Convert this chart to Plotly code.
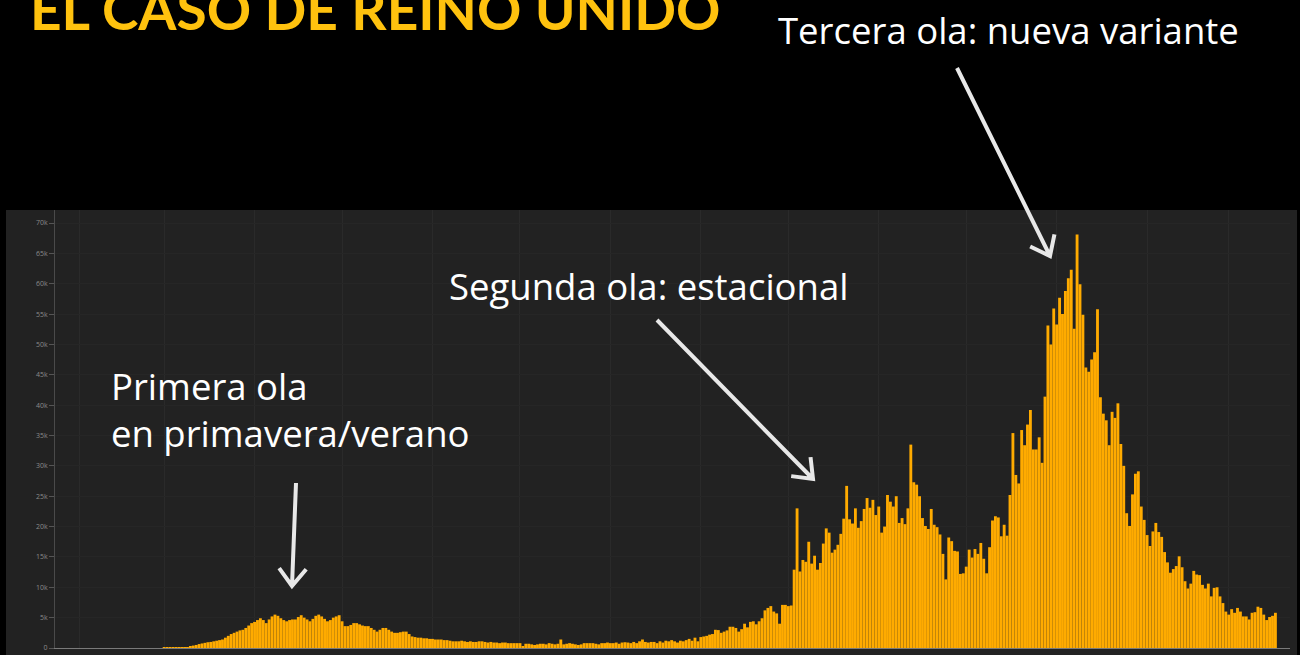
import math
import pandas as pd
import plotly.graph_objects as go

# ---------------- data (daily new cases) ----------------
month_starts = ["2020-03-01", "2020-04-01", "2020-05-01", "2020-06-01", "2020-07-01",
                "2020-08-01", "2020-09-01", "2020-10-01", "2020-11-01", "2020-12-01",
                "2021-01-01", "2021-02-01", "2021-03-01"]

cases_2020_03 = [10, 10, 10, 30, 30, 50, 40, 70, 50, 300,
                 400, 500, 650, 750, 850, 950, 1000, 1100, 1200, 1300,
                 1400, 1700, 2000, 2300, 2500, 2700, 2900, 3000, 3300, 3700, 4100]
cases_2020_04 = [4300, 4600, 4900, 4600, 4100, 4700, 5200, 5500, 5300, 4900,
                 4600, 4400, 4600, 4700, 4700, 5100, 5400, 5000, 4700, 4400,
                 4800, 5300, 5500, 5200, 4800, 4400, 4600, 5000, 5200, 5400]
cases_2020_05 = [4400, 3600, 3600, 3800, 4100, 4100, 3900, 3700, 3600, 3600,
                 3300, 3000, 2700, 3000, 3300, 3300, 3000, 2700, 2500, 2500,
                 2600, 2700, 2700, 2300, 1900, 1800, 1700, 1700, 1600, 1600, 1500]
cases_2020_06 = [1500, 1400, 1400, 1400, 1300, 1300, 1200, 1100, 1100, 1100,
                 1200, 1100, 1000, 1100, 1000, 1000, 1100, 1100, 1000, 900,
                 1000, 900, 900, 800, 900, 900, 800, 800, 800, 800]
cases_2020_07 = [800, 200, 700, 700, 600, 500, 600, 700, 700, 600,
                 800, 700, 600, 700, 1400, 600, 700, 800, 700, 600,
                 500, 600, 800, 800, 800, 800, 700, 600, 800, 800, 900]
cases_2020_08 = [800, 800, 900, 700, 900, 950, 900, 800, 1000, 800,
                 1100, 1400, 1000, 900, 1000, 1000, 800, 1100, 900, 1200,
                 1100, 1300, 1100, 900, 1200, 1100, 1300, 1500, 1200, 1700, 1100]
cases_2020_09 = [1800, 1900, 2000, 2200, 2300, 3000, 2950, 2500, 2700, 2900,
                 3500, 3500, 3300, 2700, 3100, 4000, 3400, 4300, 4400, 3900,
                 4400, 4900, 6200, 6600, 6900, 6000, 5700, 4000, 7100, 7100]
cases_2020_10 = [6900, 7000, 12900, 23000, 12600, 14500, 14200, 17500, 13900, 15200,
                 12900, 14000, 17200, 19700, 19000, 15700, 16200, 17000, 18800, 21300,
                 26700, 21200, 20500, 23000, 19800, 20900, 22900, 24700, 23100, 24400, 21900]
cases_2020_11 = [23300, 19000, 20000, 25200, 24100, 23300, 25000, 20600, 21400, 20400,
                 23000, 33500, 27300, 26900, 25000, 21400, 20100, 19600, 22900, 20300,
                 19900, 18700, 15500, 11300, 18200, 17600, 16000, 15900, 12200, 12300]
cases_2020_12 = [13400, 16200, 14900, 16300, 15500, 17300, 14700, 12300, 16600, 21000,
                 21700, 21500, 18400, 20300, 18500, 25200, 35400, 28500, 27100, 35900,
                 33400, 36800, 39200, 32700, 32700, 34700, 30500, 41400, 53100, 50000, 55900]
cases_2021_01 = [53300, 57700, 55000, 58800, 60900, 62300, 52600, 68100, 59900, 54900,
                 46200, 45500, 47500, 48700, 55800, 41300, 38600, 37500, 33400, 38900,
                 37900, 40300, 33600, 30000, 22200, 20100, 25300, 28700, 29100, 23300, 21100]
cases_2021_02 = [18600, 16800, 19200, 20600, 19100, 18300, 15800, 14100, 12400, 13000,
                 13500, 15100, 13300, 11000, 9800, 10600, 12700, 12100, 12000, 10400,
                 9800, 10600, 8500, 9900, 10000, 8500, 7400, 6000]
cases_2021_03 = [5500, 6400, 5800, 6600, 6000, 5200, 5200, 4700, 5800, 5900,
                 6800, 6600, 5500, 4600, 5100, 5300, 5800]

monthly_cases = [cases_2020_03, cases_2020_04, cases_2020_05, cases_2020_06, cases_2020_07,
                 cases_2020_08, cases_2020_09, cases_2020_10, cases_2020_11, cases_2020_12,
                 cases_2021_01, cases_2021_02, cases_2021_03]

y_tick_values = [0, 5000, 10000, 15000, 20000, 25000, 30000, 35000,
                 40000, 45000, 50000, 55000, 60000, 65000, 70000]
y_tick_labels = ["0", "5k", "10k", "15k", "20k", "25k", "30k", "35k",
                 "40k", "45k", "50k", "55k", "60k", "65k", "70k"]

title_text = "EL CASO DE REINO UNIDO"
label_third = "Tercera ola: nueva variante"
label_second = "Segunda ola: estacional"
label_first_1 = "Primera ola"
label_first_2 = "en primavera/verano"

# ---------------- build series ----------------
dates, values = [], []
for start, vals in zip(month_starts, monthly_cases):
    dates.extend(pd.date_range(start, periods=len(vals), freq="D"))
    values.extend(vals)

# ---------------- layout geometry (pixels) ----------------
W, H = 1300, 655
L, R, T, B = 55, 10, 210, 7
PW, PH = W - L - R, H - T - B
BASE = H - B


def px(x):
    return (x - L) / PW


def py(y):
    return (BASE - y) / PH


y_top = 70000 * PH / (BASE - 223)

fig = go.Figure()
fig.add_trace(go.Bar(
    x=dates, y=values,
    marker=dict(color="#FFAB00", line=dict(width=0)),
    hoverinfo="skip", showlegend=False,
))

shapes = [dict(type="rect", xref="paper", yref="paper",
               x0=px(6), x1=px(1297), y0=py(H), y1=py(210),
               fillcolor="#222222", line=dict(width=0), layer="below")]


def arrow(x0, y0, x1, y1, arm=22, ang=38):
    dx, dy = x1 - x0, y1 - y0
    n = math.hypot(dx, dy)
    bx, by = -dx / n, -dy / n
    pts = []
    for s in (1, -1):
        a = math.radians(ang * s)
        ax_ = x1 + arm * (bx * math.cos(a) - by * math.sin(a))
        ay_ = y1 + arm * (bx * math.sin(a) + by * math.cos(a))
        pts.append((ax_, ay_))
    path = (f"M {px(x0)},{py(y0)} L {px(x1)},{py(y1)} "
            f"M {px(pts[0][0])},{py(pts[0][1])} L {px(x1)},{py(y1)} "
            f"L {px(pts[1][0])},{py(pts[1][1])}")
    return dict(type="path", xref="paper", yref="paper", path=path,
                line=dict(color="#E8E8E8", width=4))


shapes += [arrow(957, 68, 1050, 256), arrow(657, 320, 813, 479), arrow(296, 483, 292, 586)]

TXT_FONT = "Open Sans"
TXT_SIZE = 36.5
TXT_DESC = 0.293


def label(text, x_left, baseline, size=TXT_SIZE, family=TXT_FONT, color="white",
          desc=TXT_DESC, weight="normal"):
    bottom = baseline + desc * size + 2
    return dict(text=text, xref="paper", yref="paper", x=px(x_left), y=py(bottom),
                xanchor="left", yanchor="bottom", showarrow=False,
                font=dict(family=family, size=size, color=color, weight=weight))


annotations = [
    label(title_text, 28, 30, size=55, family="Lato", color="#FFC20E", desc=0.213, weight="bold"),
    label(label_third, 776, 44),
    label(label_second, 447, 300),
    label(label_first_1, 109, 400),
    label(label_first_2, 109, 447),
]

fig.update_layout(
    width=W, height=H,
    margin=dict(l=L, r=R, t=T, b=B, autoexpand=False),
    paper_bgcolor="#000000", plot_bgcolor="rgba(0,0,0,0)",
    bargap=0.02,
    shapes=shapes, annotations=annotations,
    xaxis=dict(type="date", range=["2020-01-23 14:00", "2021-03-22 00:00"],
               showticklabels=False, ticks="", showgrid=True, gridcolor="#2A2A2A",
               dtick="M1", tick0="2020-01-01", zeroline=False,
               showline=True, linecolor="#7A7A7A", linewidth=1),
    yaxis=dict(range=[0, y_top], tickvals=y_tick_values, ticktext=y_tick_labels,
               tickfont=dict(family="Open Sans", size=7, color="#8A8A8A"),
               ticks="outside", ticklen=5, tickcolor="#555555",
               showline=True, linecolor="#4A4A4A", linewidth=1,
               showgrid=True, gridcolor="#262626", zeroline=False),
)

fig.write_html("out.html", config={"displayModeBar": False},
               post_script="document.body.style.margin='0';document.body.style.background='#000';")
